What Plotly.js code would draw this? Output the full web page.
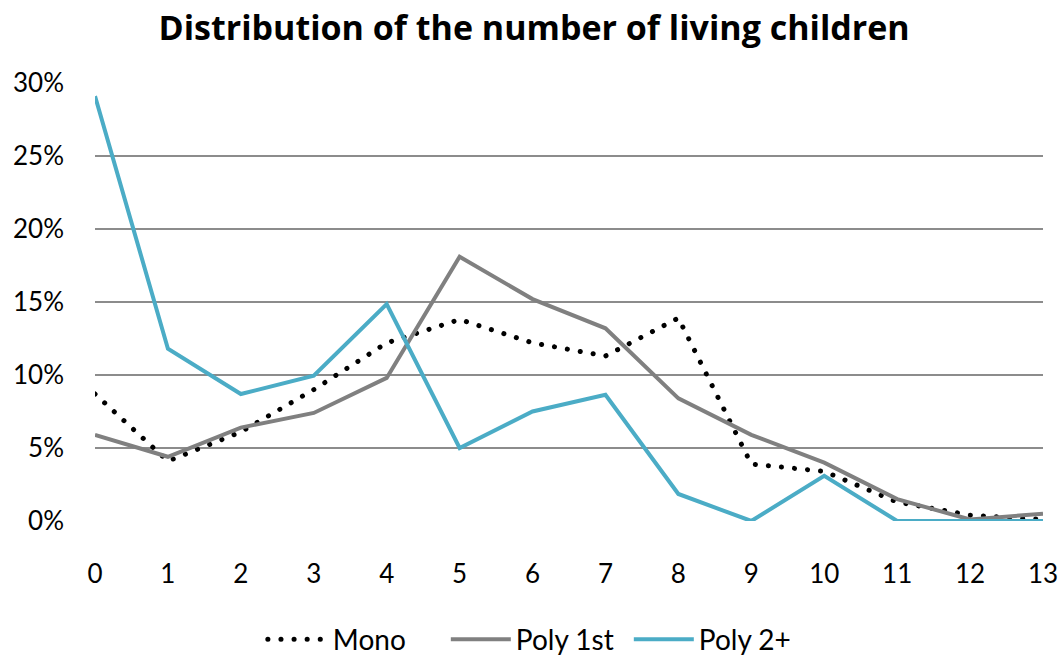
<!DOCTYPE html>
<html>
<head>
<meta charset="utf-8">
<script src="https://cdn.plot.ly/plotly-3.0.1.min.js"></script>
<style>
html, body { margin: 0; padding: 0; background: #fff; }
#chart { width: 1064px; height: 658px; }
</style>
</head>
<body>
<div id="chart"></div>
<script>
const children = [0, 1, 2, 3, 4, 5, 6, 7, 8, 9, 10, 11, 12, 13];
const mono   = [0.087, 0.041, 0.061, 0.090, 0.122, 0.138, 0.122, 0.113, 0.139, 0.039, 0.034, 0.013, 0.004, 0.001];
const poly1  = [0.059, 0.044, 0.064, 0.074, 0.098, 0.181, 0.152, 0.132, 0.084, 0.059, 0.040, 0.015, 0.001, 0.005];
const poly2  = [0.291, 0.118, 0.087, 0.0995, 0.1485, 0.050, 0.075, 0.0865, 0.0185, 0.000, 0.031, 0.000, 0.000, 0.000];
const seriesNames = ['Mono', 'Poly 1st', 'Poly 2+'];
const yTicks = [0, 0.05, 0.10, 0.15, 0.20, 0.25, 0.30];

const FONT = 'Lato, "Open Sans", sans-serif';

const traces = [
  {
    x: children, y: mono, name: seriesNames[0], type: 'scatter', mode: 'lines',
    line: { color: '#000000', width: 5, dash: '0.1px,13px' }, cliponaxis: false
  },
  {
    x: children, y: poly1, name: seriesNames[1], type: 'scatter', mode: 'lines',
    line: { color: '#808080', width: 4 }, cliponaxis: false
  },
  {
    x: children, y: poly2, name: seriesNames[2], type: 'scatter', mode: 'lines',
    line: { color: '#4BACC6', width: 4 }, cliponaxis: false
  }
];

const layout = {
  width: 1064, height: 658,
  margin: { l: 95, r: 21, t: 83, b: 137 },
  paper_bgcolor: '#ffffff', plot_bgcolor: '#ffffff',
  font: { family: FONT, size: 26, color: '#000000' },
  title: {
    text: '<b>Distribution of the number of living children</b>',
    font: { family: '"Open Sans", sans-serif', size: 34, color: '#000000' },
    x: 0.502, xanchor: 'center', xref: 'container',
    y: 0.958, yanchor: 'middle', yref: 'container'
  },
  xaxis: {
    range: [0, 13], tickvals: children, ticktext: children.map(String),
    showgrid: false, zeroline: false, showline: false, ticks: '',
    ticklabelstandoff: 35, fixedrange: true
  },
  yaxis: {
    range: [0, 0.30], tickvals: yTicks, tickformat: '.0%',
    showgrid: true, gridcolor: '#8c8c8c', gridwidth: 1.5,
    zeroline: false, showline: false, ticks: '',
    ticklabelstandoff: 30, fixedrange: true
  },
  showlegend: true,
  legend: {
    orientation: 'h', xref: 'container', yref: 'container',
    x: 0.505, xanchor: 'center', y: 0.028, yanchor: 'middle',
    font: { family: FONT, size: 28, color: '#000000' },
    itemwidth: 60, traceorder: 'normal',
    entrywidth: 108, entrywidthmode: 'pixels'
  },
  hovermode: false
};

Plotly.newPlot('chart', traces, layout, { staticPlot: true, displayModeBar: false }).then(function (gd) {
  const lines = gd.querySelectorAll('.scatterlayer .trace')[0];
  if (lines) lines.querySelectorAll('path').forEach(function (p) { p.style.strokeLinecap = 'round'; });
  const leg = gd.querySelectorAll('.legend .traces')[0];
  if (leg) leg.querySelectorAll('path').forEach(function (p) { p.style.strokeLinecap = 'round'; });
});
</script>
</body>
</html>
